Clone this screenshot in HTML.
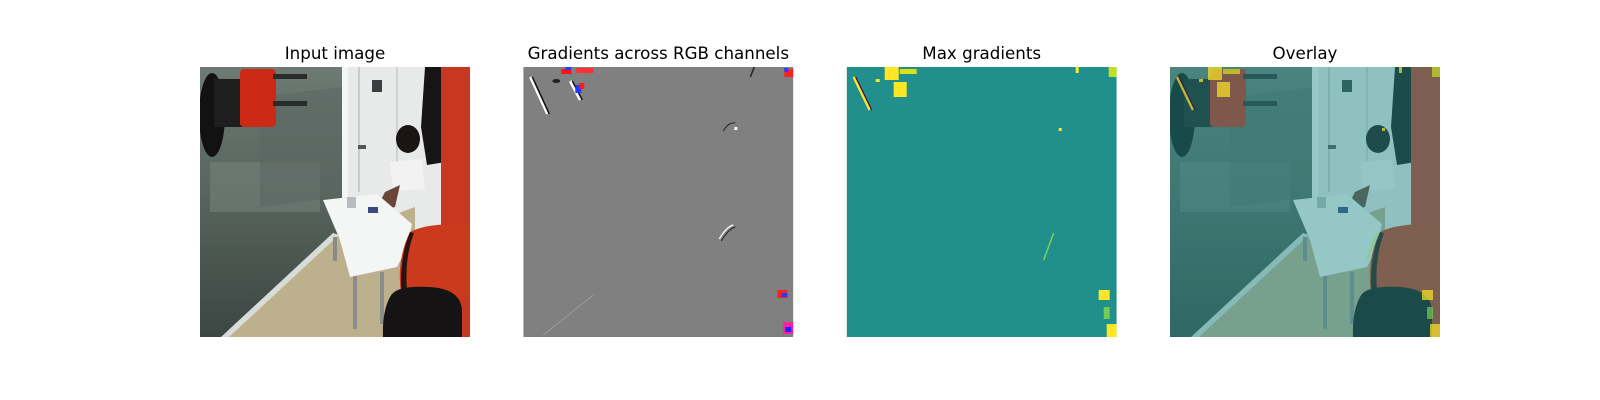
<!DOCTYPE html>
<html><head><meta charset="utf-8">
<style>
html,body{margin:0;padding:0;background:#fff;}
svg{display:block;}
text{font-family:"DejaVu Sans","Liberation Sans",sans-serif;font-size:16.7px;fill:#000;}
</style></head>
<body>
<svg width="1600" height="400" viewBox="0 0 1600 400">
<defs>
  <linearGradient id="glass" x1="0" y1="0" x2="0" y2="1">
    <stop offset="0" stop-color="#6e7a74"/>
    <stop offset="0.5" stop-color="#56625c"/>
    <stop offset="1" stop-color="#3c4642"/>
  </linearGradient>
  <clipPath id="pc"><rect x="0" y="0" width="270" height="270"/></clipPath>
  <g id="scene">
    <rect x="0" y="0" width="270" height="270" fill="#50595a"/>
    <rect x="0" y="0" width="142" height="270" fill="url(#glass)"/>
    <rect x="10" y="95" width="110" height="50" fill="#7a8580" opacity="0.5"/>
    <rect x="142" y="0" width="100" height="170" fill="#e8eaea"/>
    <rect x="142" y="0" width="6" height="130" fill="#f5f6f6"/>
    <rect x="158" y="0" width="2" height="125" fill="#c8cccc"/>
    <rect x="196" y="0" width="2" height="125" fill="#cfd2d2"/>
    <rect x="172" y="13" width="10" height="12" fill="#3a3e40"/>
    <rect x="158" y="78" width="8" height="4" fill="#555"/>
    <polygon points="133,170 215,140 215,270 23,270" fill="#bdb08c"/>
    <polygon points="133,166 139,168 29,270 21,270" fill="#d8dcd8"/>
    <polygon points="60,30 142,20 142,130 60,140" fill="#5c6862" opacity="0.6"/>
    <rect x="133" y="170" width="4" height="24" fill="#8a8a8a"/>
    <rect x="153" y="208" width="4" height="54" fill="#8c8c8c"/>
    <rect x="180" y="205" width="4" height="52" fill="#8c8c8c"/>
    <ellipse cx="208" cy="72" rx="12" ry="14" fill="#1a1414"/>
    <polygon points="190,95 222,92 225,122 193,124" fill="#f2f2f2"/>
    <polygon points="185,125 200,118 195,140 175,145" fill="#6a4638"/>
    <polygon points="123,133 177,127 212,157 207,180 197,200 150,210 140,173" fill="#f4f5f5"/>
    <rect x="147" y="130" width="9" height="11" fill="#b8bcc0"/>
    <rect x="168" y="140" width="10" height="6" fill="#3b4880"/>
    <polygon points="225,0 270,0 270,10 248,40 246,95 227,98 221,60" fill="#161414"/>
    <rect x="241" y="0" width="29" height="270" fill="#c83820"/>
    <path d="M210,165 Q230,155 270,158 L270,230 L202,232 Q195,195 210,165 Z" fill="#cc3a1e"/>
    <path d="M210,165 Q198,195 202,232 L208,232 Q203,195 214,166 Z" fill="#2a1210"/>
    <path d="M190,230 Q195,218 230,220 Q262,222 262,245 L262,270 L183,270 Q182,245 190,230 Z" fill="#151313"/>
    <ellipse cx="12" cy="48" rx="13" ry="42" fill="#121212"/>
    <rect x="14" y="12" width="40" height="48" fill="#1e1e1e"/>
    <rect x="40" y="2" width="36" height="58" rx="4" fill="#cc2a14"/>
    <rect x="73" y="7" width="34" height="5" fill="#2a2c2c"/>
    <rect x="73" y="34" width="34" height="5" fill="#2a2c2c"/>
  </g>
  <g id="hot">
    <rect x="38" y="0" width="14" height="13" fill="#fde725"/>
    <rect x="53" y="2" width="17" height="5" fill="#d8e219"/>
    <rect x="47" y="15" width="13" height="15" fill="#fde725"/>
    <line x1="7" y1="10" x2="23" y2="43" stroke="#fde725" stroke-width="2.5"/>
    <line x1="9" y1="10" x2="25" y2="43" stroke="#440154" stroke-width="1.2"/>
    <rect x="29" y="12" width="4" height="3" fill="#fde725"/>
    <rect x="262" y="0" width="8" height="10" fill="#c2df23"/>
    <rect x="229" y="0" width="3" height="6" fill="#fde725"/>
    <rect x="212" y="61" width="3" height="3" fill="#fde725"/>
    <line x1="197" y1="193" x2="207" y2="166" stroke="#7ad151" stroke-width="1.5"/>
    <rect x="252" y="223" width="11" height="10" fill="#fde725"/>
    <rect x="260" y="257" width="10" height="13" fill="#fde725"/>
    <rect x="257" y="240" width="6" height="12" fill="#6ece58"/>
  </g>
</defs>

<text x="335" y="59" text-anchor="middle">Input image</text>
<text x="658.3" y="59" text-anchor="middle">Gradients across RGB channels</text>
<text x="981.7" y="59" text-anchor="middle">Max gradients</text>
<text x="1305" y="59" text-anchor="middle">Overlay</text>

<g transform="translate(200,67)" clip-path="url(#pc)">
  <use href="#scene"/>
</g>

<g transform="translate(523.3,67)" clip-path="url(#pc)">
  <rect x="0" y="0" width="270" height="270" fill="#808080"/>
  <line x1="7" y1="10" x2="24" y2="47" stroke="#fff" stroke-width="2.5"/>
  <line x1="9" y1="10" x2="26" y2="47" stroke="#111" stroke-width="1.5"/>
  <line x1="47" y1="14" x2="57" y2="33" stroke="#fff" stroke-width="3"/>
  <line x1="49" y1="14" x2="59" y2="33" stroke="#111" stroke-width="1.5"/>
  <rect x="52" y="18" width="6" height="8" fill="#1a3cff"/>
  <rect x="56" y="16" width="5" height="6" fill="#ff1a1a"/>
  <rect x="38" y="2" width="10" height="5" fill="#ff1020"/>
  <rect x="42" y="0" width="6" height="3" fill="#2040ff"/>
  <rect x="53" y="1" width="17" height="5" fill="#ff3030"/>
  <ellipse cx="33" cy="14" rx="4" ry="2" fill="#222"/>
  <line x1="231" y1="0" x2="227" y2="10" stroke="#222" stroke-width="1.5"/>
  <rect x="261" y="2" width="9" height="8" fill="#ff2020"/>
  <rect x="261" y="1" width="4" height="4" fill="#2040ff"/>
  <path d="M196,172 Q203,160 210,158" stroke="#eee" stroke-width="1.5" fill="none"/>
  <path d="M198,174 Q205,162 212,160" stroke="#222" stroke-width="1" fill="none"/>
  <path d="M200,64 Q205,55 212,56" stroke="#222" stroke-width="1" fill="none"/>
  <rect x="211" y="60" width="3" height="3" fill="#fff"/>
  <rect x="254" y="223" width="10" height="8" fill="#ff2020"/>
  <rect x="258" y="226" width="6" height="4" fill="#2040ff"/>
  <rect x="260" y="255" width="10" height="12" fill="#ff20a0"/>
  <rect x="262" y="260" width="6" height="5" fill="#2020ff"/>
  <line x1="20" y1="268" x2="70" y2="228" stroke="#9a9a9a" stroke-width="1"/>
</g>

<g transform="translate(846.7,67)" clip-path="url(#pc)">
  <rect x="0" y="0" width="270" height="270" fill="#21908d"/>
  <use href="#hot"/>
</g>

<g transform="translate(1170,67)" clip-path="url(#pc)">
  <use href="#scene"/>
  <rect x="0" y="0" width="270" height="270" fill="#21908d" opacity="0.45"/>
  <g opacity="0.7"><use href="#hot"/></g>
</g>
</svg>
</body></html>
